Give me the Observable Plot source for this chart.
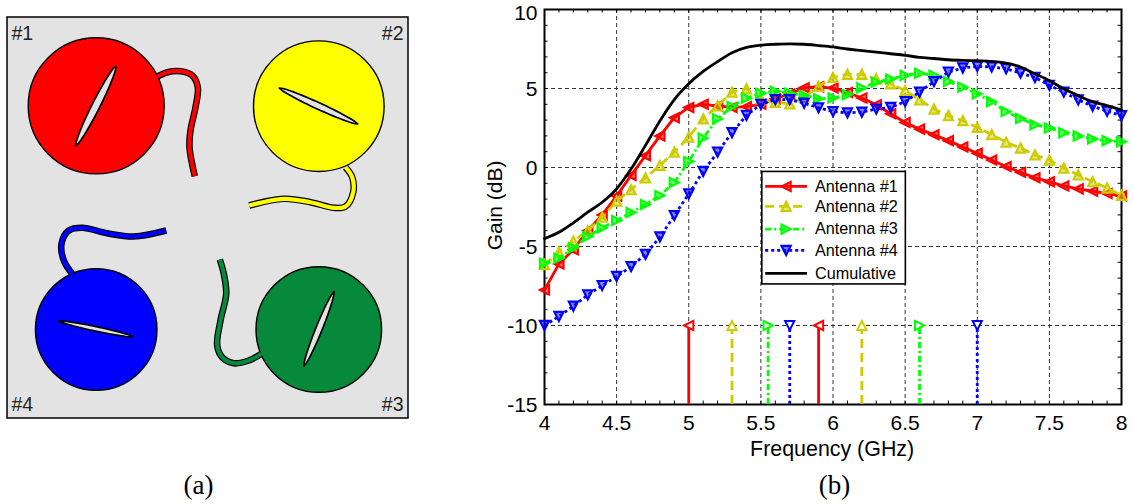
<!DOCTYPE html>
<html>
<head>
<meta charset="utf-8">
<script src="https://cdn.jsdelivr.net/npm/d3@7"></script>
<script src="https://cdn.jsdelivr.net/npm/@observablehq/plot@0.6"></script>
<style>
html,body{margin:0;padding:0;background:#fff;}
#wrap{position:relative;width:1133px;height:504px;overflow:hidden;}
#wrap svg{position:absolute;top:0;}
</style>
</head>
<body>
<div id="wrap"></div>
<script>
// ---------- Panel (b) data ----------
const freqs = [4,4.1,4.2,4.3,4.4,4.5,4.6,4.7,4.8,4.9,5,5.1,5.2,5.3,5.4,5.5,5.6,5.7,5.8,5.9,6,6.1,6.2,6.3,6.4,6.5,6.6,6.7,6.8,6.9,7,7.1,7.2,7.3,7.4,7.5,7.6,7.7,7.8,7.9,8];
const gain1 = [-7.75,-6.1,-5.2,-4.0,-3.0,-1.8,-0.5,0.75,2.0,3.15,3.8,4.0,3.9,3.8,3.85,4.0,4.35,4.65,5.05,5.1,5.03,4.75,4.4,3.97,3.4,2.85,2.43,2.07,1.7,1.3,0.9,0.47,0.06,-0.3,-0.65,-0.9,-1.17,-1.35,-1.5,-1.65,-1.8];
const gain2 = [-6.15,-5.35,-4.66,-4.0,-3.14,-2.13,-1.4,-0.66,0.13,0.97,1.92,3.08,3.9,4.77,4.98,4.35,4.13,4.03,4.45,5.13,5.7,5.9,5.9,5.6,5.3,4.87,4.28,3.7,3.28,2.97,2.54,2.08,1.6,1.23,0.8,0.47,-0.04,-0.47,-0.9,-1.3,-1.76];
const gain3 = [-6.05,-5.74,-5.08,-4.37,-3.82,-3.35,-2.85,-2.34,-1.77,-0.95,0.38,1.86,3.08,3.86,4.39,4.7,4.83,4.7,4.56,4.35,4.4,4.6,5.04,5.4,5.6,5.83,5.97,5.83,5.44,5.08,4.66,4.17,3.54,3.1,2.7,2.5,2.2,2.0,1.8,1.7,1.63];
const gain4 = [-10,-9.43,-8.78,-8.06,-7.47,-6.9,-6.27,-5.5,-4.4,-3.04,-1.67,-0.25,0.97,2.2,3.3,4.0,4.3,4.3,4.07,3.78,3.54,3.46,3.5,3.7,3.8,4.17,4.77,5.44,6.04,6.3,6.4,6.36,6.25,5.97,5.7,5.2,4.77,4.28,3.88,3.56,3.28];
const cumulative = [-4.5,-4.1,-3.5,-2.83,-2.2,-1.35,-0.1,1.4,2.95,4.3,5.3,6.08,6.7,7.26,7.6,7.74,7.8,7.83,7.8,7.72,7.63,7.5,7.4,7.3,7.2,7.1,6.97,6.9,6.82,6.78,6.76,6.72,6.6,6.36,5.93,5.5,4.98,4.55,4.17,3.92,3.65];
const names = ["Antenna #1","Antenna #2","Antenna #3","Antenna #4","Cumulative"];
const colors = ["#ff0000","#cccc00","#00ff00","#0000ff","#000000"];
const dashes = ["none","9,5","6,3,2,3","3,3","none"];
const bandEdges = [[5,5.9],[5.3,6.2],[5.55,6.6],[5.7,7]];
const xTicks = [4,4.5,5,5.5,6,6.5,7,7.5,8];
const yTicks = [-15,-10,-5,0,5,10];
const xMinor = d3.range(40).map(i => 4 + i/10).concat([8]);
const yMinor = d3.range(-15,11);

// ---------- Panel (a) data (schematic, in its own units) ----------
const panelBox = [[7,17,408,418]];
const patchNames = ["#1","#2","#3","#4"];
const patchFill = ["#ff0000","#ffff00","#06893a","#0000ff"];
const patchCx = [95.7,318.3,318.3,95.7];
const patchCy = [105.3,105.7,329,329];
const patchR = [68,65.3,62.8,60.8];
const labelX = [11,403,403,11];
const labelY = [33,33,404,404];
const labelAnchor = ["start","end","end","start"];
const slotEnds = [[75.7,146,116,66,8],[279.3,88,357.7,124,6.5],[304,366,334,291.7,6.5],[58.7,321,132.7,336.7,4.5]];
const feed1 = [[157,76],[167,71.7],[180,70.7],[191.7,75],[197.3,86.7],[195,106.7],[190,130],[189,146.7],[194.3,175.7]];
const feed2 = [[345,166.7],[351.7,176.7],[352.7,191.7],[345,206],[333.3,207.3],[310,201.7],[283.3,198.3],[248.7,205]];
const feed3 = [[261,353.3],[248.3,360],[233.3,362.7],[221.7,356.7],[216.7,345],[220,320],[225.7,293.3],[223.3,273.3],[219.3,259]];
const feed4 = [[71.7,273.3],[63.3,260],[61,243.3],[68.3,230],[81.7,227.3],[106.7,232.7],[133.3,236],[165.7,230]];
const feeds = [feed1,feed2,feed3,feed4];

// ---------- Custom triangle symbols ----------
const tri = pts => ({draw(ctx,size){const r=Math.sqrt(size/Math.PI);
  pts.forEach(([a,b],i)=> i? ctx.lineTo(a*r,b*r): ctx.moveTo(a*r,b*r)); ctx.closePath();}});
const symbols = [tri([[-1,0],[1,-1],[1,1]]),tri([[0,-1],[1,1],[-1,1]]),tri([[1,0],[-1,-1],[-1,1]]),tri([[0,1],[1,-1],[-1,-1]])];
const gains = [gain1,gain2,gain3,gain4];

// ---------- Left panel ----------
function lensRibbon([x1,y1,x2,y2,w]){
  const dx=x2-x1, dy=y2-y1, L=Math.hypot(dx,dy), nx=-dy/L, ny=dx/L;
  return d3.range(0,25).map(i=>{const t=i/24,h=(w/2)*Math.pow(4*t*(1-t),0.6),cx=x1+dx*t,cy=y1+dy*t;
    return {a:cx+nx*h,b:cy+ny*h,c:cx-nx*h,d:cy-ny*h};});
}
const sans = "Liberation Sans, Helvetica, Arial, sans-serif";
const serif = "Liberation Serif, Times New Roman, serif";
const left = Plot.plot({
  width:420,height:504,margin:0,
  style:{background:"transparent",overflow:"visible"},
  x:{domain:[0,420],range:[0,420],axis:null},
  y:{domain:[0,504],range:[0,504],axis:null},
  r:{type:"identity"},
  marks:[
    Plot.rect(panelBox,{x1:d=>d[0],y1:d=>d[1],x2:d=>d[2],y2:d=>d[3],fill:"#e3e3e3",stroke:"#000",strokeWidth:1.5}),
    ...feeds.map(f=>Plot.line(f,{x:d=>d[0],y:d=>d[1],stroke:"#000",strokeWidth:6.6,curve:"catmull-rom",strokeLinecap:"butt"})),
    Plot.dot(patchNames,{x:patchCx,y:patchCy,r:patchR,fill:patchFill,stroke:"#000",strokeWidth:1.4}),
    ...feeds.map((f,i)=>Plot.line(f,{x:d=>d[0],y:d=>d[1],stroke:patchFill[i],strokeWidth:4.2,curve:"catmull-rom",strokeLinecap:"butt"})),
    ...slotEnds.map(s=>Plot.area(lensRibbon(s),{x1:"a",y1:"b",x2:"c",y2:"d",fill:"#e3e3e3",stroke:"#000",strokeWidth:1.7,strokeLinejoin:"round"})),
    Plot.text(patchNames,{x:labelX,y:labelY,text:d=>d,textAnchor:"start",fontSize:19.5,fontFamily:sans,fill:"#222",filter:(d,i)=>labelAnchor[i]==="start"}),
    Plot.text(patchNames,{x:labelX,y:labelY,text:d=>d,textAnchor:"end",fontSize:19.5,fontFamily:sans,fill:"#222",filter:(d,i)=>labelAnchor[i]==="end"}),
    Plot.text(["(a)"],{x:198,y:485,text:d=>d,fontSize:27,fontFamily:serif,fill:"#000"})
  ]
});
left.style.left="0px";

// ---------- Right panel ----------
const series = (i)=>[
  Plot.line(freqs,{x:d=>d,y:gains[i],stroke:colors[i],strokeWidth:2.8,strokeDasharray:dashes[i],strokeLinecap:"butt"}),
  Plot.dot(freqs,{x:d=>d,y:gains[i],symbol:()=>symbols[i],r:4.6,stroke:colors[i],strokeWidth:2.1,fill:colors[i],fillOpacity:0.5})
];
const stems = (i)=>[
  Plot.ruleX(bandEdges[i],{y1:-15,y2:-10,stroke:colors[i],strokeWidth:2.8,strokeDasharray:dashes[i],strokeLinecap:"butt"}),
  Plot.dot(bandEdges[i],{x:d=>d,y:-10,symbol:()=>symbols[i],r:4.6,stroke:colors[i],strokeWidth:2,fill:"#fff",fillOpacity:1})
];
// legend in the chart's own scale units
const lgY = [-1.2,-2.46,-3.9,-5.25,-6.7];
const legend = [
  Plot.rect([0],{x1:5.51,x2:6.505,y1:-0.28,y2:-7.4,fill:"#fff",stroke:"#000",strokeWidth:1.6}),
  ...names.map((n,i)=>Plot.line([5.53,5.82],{x:d=>d,y:()=>lgY[i],stroke:colors[i],strokeWidth:2.8,strokeDasharray:dashes[i],strokeLinecap:"butt"})),
  ...[0,1,2,3].map(i=>Plot.dot([5.675],{x:d=>d,y:()=>lgY[i],symbol:()=>symbols[i],r:4.6,stroke:colors[i],strokeWidth:2.1,fill:colors[i],fillOpacity:0.5})),
  Plot.text(names,{x:5.875,y:lgY,text:d=>d,textAnchor:"start",fontSize:16.2,fontFamily:sans,fill:"#000"})
];
const right = Plot.plot({
  width:653,height:504,marginLeft:64,marginRight:12,marginTop:9,marginBottom:100,
  style:{background:"transparent",overflow:"visible"},
  x:{domain:[4,8],axis:null},
  y:{domain:[-15,10],axis:null},
  marks:[
    Plot.ruleX(xTicks.slice(1,-1),{stroke:"#333",strokeWidth:1,strokeDasharray:"4,3"}),
    Plot.ruleY(yTicks.slice(1,-1),{stroke:"#333",strokeWidth:1,strokeDasharray:"4,3"}),
    Plot.ruleX(xMinor,{x:d=>d,y1:-15,y2:-14.78,stroke:"#000",strokeWidth:1}),
    Plot.ruleX(xMinor,{x:d=>d,y1:10,y2:9.78,stroke:"#000",strokeWidth:1}),
    Plot.ruleY(yMinor,{y:d=>d,x1:4,x2:4.024,stroke:"#000",strokeWidth:1}),
    Plot.ruleY(yMinor,{y:d=>d,x1:8,x2:7.976,stroke:"#000",strokeWidth:1}),
    Plot.frame({stroke:"#000",strokeWidth:2}),
    ...stems(0),...stems(1),...stems(2),...stems(3),
    ...series(0),...series(1),...series(2),...series(3),
    Plot.line(freqs,{x:d=>d,y:cumulative,stroke:"#000",strokeWidth:2.8,curve:"monotone-x"}),
    ...legend,
    Plot.axisX({ticks:xTicks,tickSize:0,tickPadding:11,tickFormat:d=>String(d),fontSize:21,fontFamily:sans,label:null,anchor:"bottom",color:"#000"}),
    Plot.axisY({ticks:yTicks.filter(t=>t<10),tickSize:0,tickPadding:7,tickFormat:d=>String(d),fontSize:21,fontFamily:sans,label:null,anchor:"left",color:"#000",dy:0.7}),
    Plot.axisY({ticks:[10],tickSize:0,tickPadding:7,tickFormat:d=>String(d),fontSize:21,fontFamily:sans,label:null,anchor:"left",color:"#000",dy:3.5}),
    Plot.text(["Frequency (GHz)"],{x:5.994,y:-17.85,text:d=>d,fontSize:21.4,fontFamily:sans,fill:"#000"}),
    Plot.text(["Gain (dB)"],{x:3.66,y:-2.4,text:d=>d,rotate:-90,fontSize:21,fontFamily:sans,fill:"#000"}),
    Plot.text(["(b)"],{x:6.01,y:-20.1,text:d=>d,fontSize:27,fontFamily:serif,fill:"#000"})
  ]
});
right.style.left="480px";
const wrap=document.getElementById("wrap");
wrap.appendChild(left);wrap.appendChild(right);
</script>
</body>
</html>
